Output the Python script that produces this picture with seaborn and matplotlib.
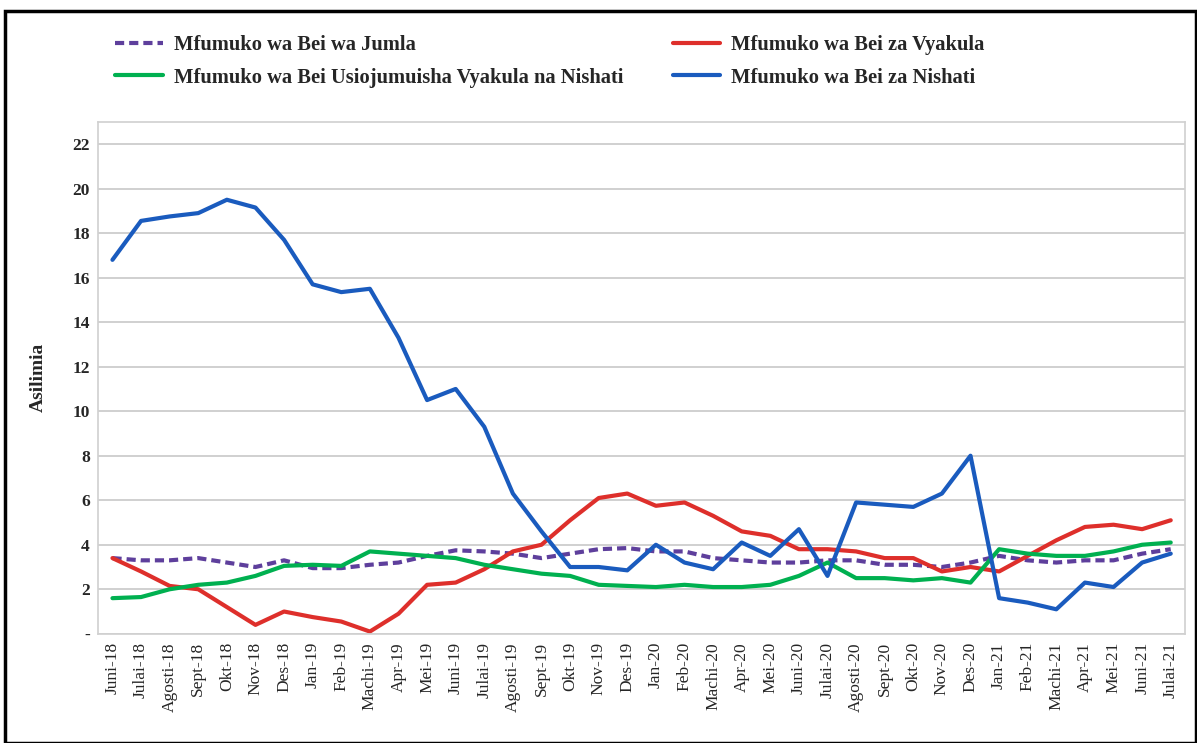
import pandas as pd
import numpy as np
import matplotlib
matplotlib.use("Agg")
import matplotlib.pyplot as plt
import seaborn as sns
from matplotlib.patches import Rectangle

months = ["Juni-18", "Julai-18", "Agosti-18", "Sept-18", "Okt-18", "Nov-18", "Des-18",
          "Jan-19", "Feb-19", "Machi-19", "Apr-19", "Mei-19", "Juni-19", "Julai-19",
          "Agosti-19", "Sept-19", "Okt-19", "Nov-19", "Des-19",
          "Jan-20", "Feb-20", "Machi-20", "Apr-20", "Mei-20", "Juni-20", "Julai-20",
          "Agosti-20", "Sept-20", "Okt-20", "Nov-20", "Des-20",
          "Jan-21", "Feb-21", "Machi-21", "Apr-21", "Mei-21", "Juni-21", "Julai-21"]

jumla = [3.4, 3.3, 3.3, 3.4, 3.2, 3.0, 3.3, 2.95, 2.95, 3.1, 3.2, 3.5, 3.75, 3.7,
         3.6, 3.4, 3.6, 3.8, 3.85, 3.7, 3.7, 3.4, 3.3, 3.2, 3.2, 3.3, 3.3, 3.1,
         3.1, 3.0, 3.2, 3.5, 3.3, 3.2, 3.3, 3.3, 3.6, 3.8]
vyakula = [3.4, 2.8, 2.15, 2.0, 1.2, 0.4, 1.0, 0.75, 0.55, 0.1, 0.9, 2.2, 2.3, 2.9,
           3.7, 4.0, 5.1, 6.1, 6.3, 5.75, 5.9, 5.3, 4.6, 4.4, 3.8, 3.8, 3.7, 3.4,
           3.4, 2.8, 3.0, 2.8, 3.5, 4.2, 4.8, 4.9, 4.7, 5.1]
msingi = [1.6, 1.65, 2.0, 2.2, 2.3, 2.6, 3.05, 3.1, 3.05, 3.7, 3.6, 3.5, 3.4, 3.1,
          2.9, 2.7, 2.6, 2.2, 2.15, 2.1, 2.2, 2.1, 2.1, 2.2, 2.6, 3.2, 2.5, 2.5,
          2.4, 2.5, 2.3, 3.8, 3.6, 3.5, 3.5, 3.7, 4.0, 4.1]
nishati = [16.8, 18.55, 18.75, 18.9, 19.5, 19.15, 17.7, 15.7, 15.35, 15.5, 13.3, 10.5,
           11.0, 9.3, 6.3, 4.6, 3.0, 3.0, 2.85, 4.0, 3.2, 2.9, 4.1, 3.5, 4.7, 2.6,
           5.9, 5.8, 5.7, 6.3, 8.0, 1.6, 1.4, 1.1, 2.3, 2.1, 3.2, 3.6]

series = {
    "Mfumuko wa Bei wa Jumla": (jumla, "#5E3F9C", (2.2, 1.2)),
    "Mfumuko wa Bei za Vyakula": (vyakula, "#DE2F2B", ""),
    "Mfumuko wa Bei Usiojumuisha Vyakula na Nishati": (msingi, "#00B050", ""),
    "Mfumuko wa Bei za Nishati": (nishati, "#1A5BBE", ""),
}

sns.set_style("white")
plt.rcParams["font.family"] = ["Liberation Serif", "DejaVu Serif"]

fig = plt.figure(figsize=(11.97, 7.43), dpi=100)
ax = fig.add_axes([0.082, 0.147, 0.908, 0.689])

x = np.arange(len(months))
for name, (vals, col, dash) in series.items():
    df = pd.DataFrame({"x": x, "y": vals})
    sns.lineplot(data=df, x="x", y="y", ax=ax, color=col, linewidth=3, label=name)
    if dash:
        ax.lines[-1].set_dashes(dash)

ax.set_xlim(-0.5, len(months) - 0.5)
ax.set_ylim(0, 23)
ax.set_yticks(range(0, 23, 2))
ax.set_yticklabels(["-"] + [str(v) for v in range(2, 23, 2)], fontweight="bold", fontsize=12.5)
ax.set_xticks(x)
ax.set_xticklabels(months, rotation=90, fontsize=12.5)
ax.tick_params(axis="both", length=0, pad=6)
ax.yaxis.grid(True, color="#C8C8C8", linewidth=1.2)
ax.xaxis.grid(False)
for s in ax.spines.values():
    s.set_color("#D0D0D0")
    s.set_linewidth(1.2)
ax.set_xlabel("")
ax.set_ylabel("Asilimia", fontweight="bold", fontsize=14, labelpad=18)

handles, labels = ax.get_legend_handles_labels()
ax.get_legend().remove()
order = [0, 2, 1, 3]
fig.legend([handles[i] for i in order], [labels[i] for i in order],
           loc="upper left", bbox_to_anchor=(0.081, 0.978), ncol=2, frameon=False,
           prop={"weight": "bold", "size": 14.8}, handlelength=2.3, handletextpad=0.55,
           columnspacing=2.4, labelspacing=0.62)

fig.patches.append(Rectangle((0.004, 0.0), 0.995, 0.985, transform=fig.transFigure,
                             fill=False, edgecolor="black", linewidth=2.5))

fig.savefig("out.png", dpi=100)
